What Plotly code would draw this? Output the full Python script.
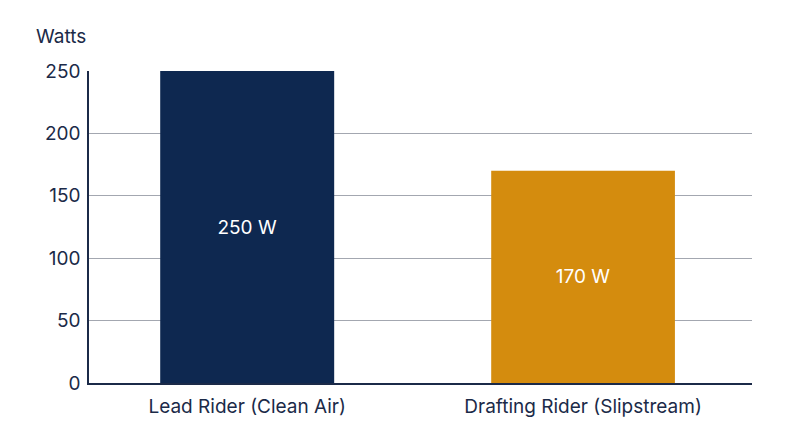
import plotly.graph_objects as go

# rider power output
riders = ["Lead Rider (Clean Air)", "Drafting Rider (Slipstream)"]
watts = [250, 170]
bar_labels = ["250 W", "170 W"]
bar_colors = ["#0e2850", "#d48c0e"]
y_ticks = [0, 50, 100, 150, 200, 250]

ink = "#1b2a48"

fig = go.Figure()
fig.add_trace(
    go.Bar(x=riders, y=watts,
           text=bar_labels, textposition="inside",
           insidetextanchor="middle",
           textfont=dict(color="white", size=19, family="Inter"),
           marker=dict(color=bar_colors, line=dict(width=0)),
           width=[0.518, 0.547],
           hoverinfo="skip")
)

fig.update_layout(
    width=800, height=447,
    margin=dict(l=81, r=56, t=63, b=72),
    paper_bgcolor="white", plot_bgcolor="white",
    font=dict(family="Inter", size=19, color=ink),
    showlegend=False,
    annotations=[dict(text="Watts", xref="paper", yref="paper",
                      x=-0.083, y=1.0, yshift=35, xanchor="left",
                      yanchor="middle", showarrow=False,
                      font=dict(size=19, color=ink))]
)
fig.update_xaxes(range=[-0.471, 1.503], showline=True, linecolor=ink,
                 linewidth=1.5, showgrid=False, ticks="",
                 ticklabelstandoff=5)
fig.update_yaxes(range=[0, 250], tickvals=y_ticks, showline=True,
                 linecolor=ink, linewidth=1.5, gridcolor="#a3a7b0",
                 gridwidth=1, zeroline=False, ticks="",
                 ticklabelstandoff=3)

fig.write_html("out.html")
